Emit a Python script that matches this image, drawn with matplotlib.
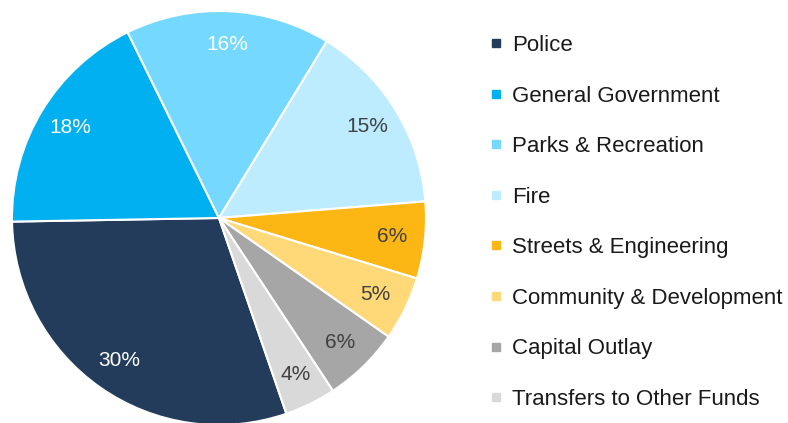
import matplotlib.pyplot as plt
from matplotlib.lines import Line2D

plt.rcParams['font.family'] = ['Liberation Sans', 'DejaVu Sans']

categories = ['Police', 'General Government', 'Parks & Recreation', 'Fire',
              'Streets & Engineering', 'Community & Development',
              'Capital Outlay', 'Transfers to Other Funds']
shares = [30, 18, 16, 15, 6, 5, 6, 4]
colors = ['#243C5C', '#00B0F0', '#75D8FF', '#BDEBFF',
          '#FDB714', '#FFD878', '#A6A6A6', '#D9D9D9']
label_colors = ['#FFFFFF', '#FFFFFF', '#FFFFFF', '#404040',
                '#404040', '#404040', '#404040', '#404040']

fig = plt.figure(figsize=(7.88, 4.23), dpi=100)
W, H = 788, 423
cx, cy, r = 219, 218, 207
ax = fig.add_axes([(cx - r) / W, (H - cy - r) / H, 2 * r / W, 2 * r / H])

wedges, texts, autotexts = ax.pie(
    shares, colors=colors, startangle=-71, counterclock=False,
    autopct='%d%%', pctdistance=0.84, radius=1.0,
    wedgeprops=dict(edgecolor='white', linewidth=1.5),
    textprops=dict(fontsize=15))
for t, c in zip(autotexts, label_colors):
    t.set_color(c)
ax.set_xlim(-1, 1)
ax.set_ylim(-1, 1)
ax.set_aspect('equal')
for w in wedges:
    w.set_clip_on(False)

handles = [Line2D([], [], marker='s', linestyle='none', markersize=5.5,
                  markerfacecolor=c, markeredgecolor=c) for c in colors]
fig.legend(handles, categories, loc='upper left',
           bbox_to_anchor=(469 / W, 1 - 15 / H), frameon=False,
           fontsize=16, labelspacing=1.33, handlelength=0.6,
           handletextpad=0.45, labelcolor='#1a1a1a')

fig.savefig('out.png', dpi=100)
